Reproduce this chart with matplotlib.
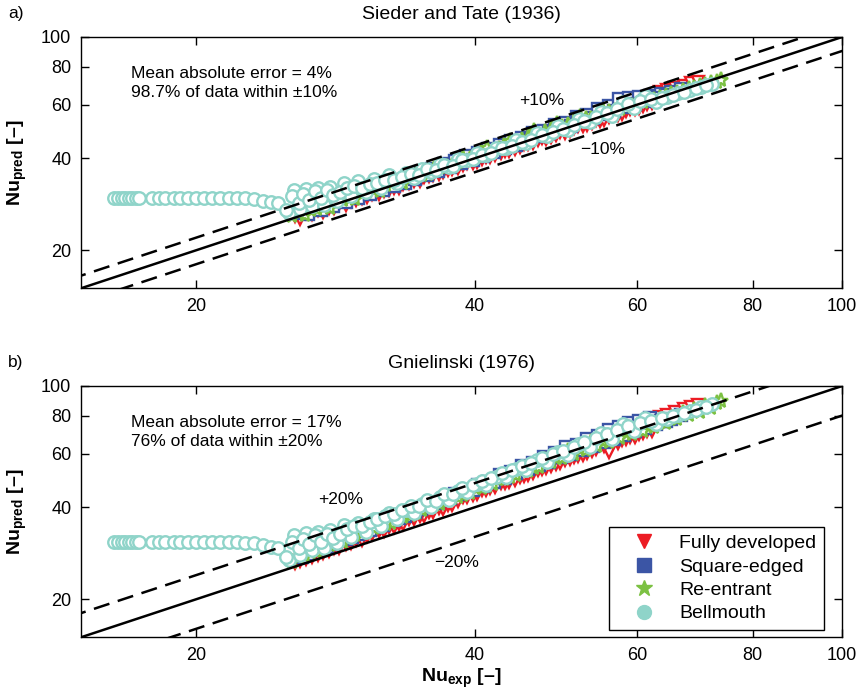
import numpy as np
import matplotlib.pyplot as plt
from matplotlib.lines import Line2D

plt.rcParams['font.family'] = ['Liberation Sans', 'DejaVu Sans']
plt.rcParams['mathtext.fontset'] = 'custom'
plt.rcParams['mathtext.rm'] = 'Liberation Sans'
plt.rcParams['mathtext.bf'] = 'Liberation Sans:bold'

# Nu_exp and predicted Nu for Sieder & Tate (st) and Gnielinski (gn)
fd_x = [25.6, 26.3, 27.1, 27.8, 28.5, 29.4, 30.2, 31.0, 31.9, 32.7, 33.5, 34.4, 35.3, 36.1,
        37.0, 37.8, 38.9, 39.8, 40.7, 41.6, 42.7, 43.6, 44.8, 45.7, 46.9, 47.8, 49.0, 50.1,
        51.3, 52.4, 53.6, 54.7, 55.9, 57.2, 58.4, 59.6, 60.9, 62.2, 63.5, 64.6, 66.0, 67.4,
        68.6, 69.8,
        25.9, 26.7, 27.4, 28.2, 29.0, 29.8, 30.6, 31.5, 32.3, 33.1, 34.0, 34.9, 35.7, 36.6,
        37.4, 38.4, 39.3, 40.2, 41.2, 42.1, 43.2, 44.2, 45.2, 46.3, 47.3, 48.4, 49.5, 50.7,
        51.8, 53.0, 54.2, 55.3, 56.5, 57.8, 59.0, 60.3, 61.5]
fd_st = [25.9, 26.4, 27.0, 27.6, 28.3, 28.9, 29.6, 30.6, 31.2, 32.0, 32.9, 33.6, 34.8, 35.2,
         36.1, 36.9, 38.0, 38.7, 39.9, 40.5, 41.8, 42.4, 43.6, 44.5, 45.8, 46.4, 47.8, 48.6,
         50.2, 50.9, 52.4, 53.1, 54.6, 55.7, 57.1, 58.0, 59.6, 60.9, 66.2, 67.1, 68.0, 69.3,
         70.4, 71.2,
         25.3, 26.2, 26.7, 27.6, 28.2, 29.1, 29.8, 30.5, 31.5, 32.1, 33.2, 33.8, 34.9, 35.5,
         36.6, 37.2, 38.5, 39.0, 40.4, 40.9, 42.4, 42.9, 44.5, 44.9, 46.6, 46.9, 48.7, 49.3,
         50.9, 51.4, 53.3, 53.6, 55.6, 56.0, 58.1, 58.4, 60.5]
fd_gn = [26.2, 27.0, 27.9, 28.8, 29.5, 30.6, 31.3, 32.6, 33.4, 34.6, 35.3, 36.6, 37.5, 38.6,
         39.5, 40.6, 43.2, 44.0, 45.6, 46.4, 47.9, 48.6, 50.4, 51.2, 52.9, 53.7, 55.6, 57.0,
         58.3, 59.2, 61.0, 65.4, 60.6, 65.0, 66.8, 68.1, 69.9, 71.4, 79.2, 80.4, 82.0, 84.1,
         85.6, 86.8,
         26.6, 27.6, 28.4, 29.4, 30.4, 31.3, 32.3, 33.4, 34.4, 35.4, 36.5, 37.6, 38.6, 39.8,
         40.8, 42.1, 43.1, 44.3, 45.6, 46.8, 48.1, 49.3, 50.6, 52.0, 53.3, 54.6, 56.0, 57.6,
         59.0, 60.5, 62.0, 63.4, 64.9, 66.6, 68.1, 69.8, 71.3]

se_x = [26.0, 26.9, 27.7, 28.6, 29.5, 30.4, 31.3, 32.2, 33.1, 34.0, 35.0, 36.0, 37.1, 38.1,
        39.2, 40.3, 41.4, 42.6, 43.8, 45.0, 46.3, 47.6, 48.9, 50.2, 51.6, 53.0, 54.4, 55.9,
        57.3, 58.8, 60.3, 62.0, 63.6, 65.2, 66.9,
        26.4, 27.3, 28.1, 29.0, 29.9, 30.8, 31.8, 32.7, 33.6, 34.5, 35.5, 36.5, 37.6, 38.7,
        39.8, 40.9, 42.0, 43.2, 44.4, 45.7, 47.0, 48.2, 49.6, 50.9, 52.3, 53.7, 55.2, 56.6,
        58.1, 59.6, 61.2, 62.8, 64.4]
se_st = [26.4, 27.2, 28.3, 29.0, 30.2, 30.8, 32.1, 32.7, 34.0, 34.6, 36.0, 36.8, 38.3, 39.1,
         40.6, 41.5, 43.0, 44.1, 45.6, 46.5, 48.4, 49.3, 51.4, 52.3, 54.6, 55.4, 58.1, 59.6,
         62.4, 62.9, 63.6, 64.2, 65.0, 66.1, 67.3,
         26.3, 27.0, 27.9, 28.8, 29.6, 30.5, 31.6, 32.5, 33.3, 34.3, 35.2, 36.3, 37.4, 38.5,
         39.6, 40.8, 41.9, 43.3, 44.4, 45.8, 47.2, 48.5, 50.0, 51.2, 52.9, 54.1, 55.8, 57.0,
         58.8, 60.2, 61.6, 63.3, 64.6]
se_gn = [27.6, 28.9, 29.6, 31.2, 32.0, 33.6, 34.4, 36.0, 36.9, 38.4, 39.4, 41.2, 42.3, 44.1,
         45.3, 47.4, 48.6, 50.9, 52.1, 54.5, 55.8, 58.6, 60.1, 63.0, 64.1, 67.2, 68.6, 71.9,
         73.6, 75.9, 76.8, 78.4, 76.5, 78.0, 80.2,
         28.2, 29.4, 30.4, 31.6, 32.7, 33.8, 35.1, 36.3, 37.5, 38.7, 40.0, 41.3, 42.8, 44.2,
         45.6, 47.1, 48.5, 50.1, 51.7, 53.4, 55.0, 56.5, 58.3, 59.9, 61.7, 63.5, 65.4, 67.2,
         69.1, 71.0, 73.0, 75.0, 77.0]

re_x = [25.4, 26.2, 27.0, 27.9, 28.8, 29.7, 30.6, 31.6, 32.5, 33.5, 34.6, 35.6, 36.7, 37.8,
        38.9, 40.1, 41.3, 42.5, 43.7, 45.0, 46.4, 47.7, 49.1, 50.5, 52.0, 53.5, 55.1, 56.7,
        58.3, 60.0, 61.7, 63.5, 65.3, 67.2, 69.1, 71.1, 73.2, 74.0,
        25.8, 26.6, 27.5, 28.4, 29.3, 30.2, 31.1, 32.1, 33.0, 34.1, 35.1, 36.2, 37.3, 38.4,
        39.5, 40.7, 41.9, 43.1, 44.4, 45.7, 47.0, 48.4, 49.8, 51.3, 52.8, 54.3, 55.9, 57.5,
        59.2, 60.9, 62.6, 64.4, 66.3, 68.2, 70.1, 72.2]
re_st = [25.8, 26.0, 27.2, 27.6, 29.1, 29.5, 31.0, 31.3, 33.1, 33.2, 35.4, 35.5, 37.6, 37.9,
         40.1, 40.3, 43.2, 43.0, 45.6, 45.9, 49.1, 48.8, 51.8, 51.5, 54.6, 53.9, 57.4, 57.0,
         60.2, 60.1, 62.5, 63.2, 65.0, 66.4, 68.1, 69.6, 71.4, 72.3,
         26.5, 27.1, 27.8, 28.9, 29.7, 30.8, 31.4, 32.6, 33.3, 34.6, 35.3, 36.8, 37.6, 38.9,
         39.8, 41.4, 42.3, 43.9, 44.9, 46.6, 47.7, 49.4, 50.6, 52.3, 53.7, 55.1, 56.6, 58.1,
         59.5, 61.0, 62.3, 63.9, 65.6, 67.3, 68.9, 70.6]
re_gn = [26.4, 27.8, 28.6, 30.1, 30.8, 32.4, 33.2, 34.9, 35.6, 37.3, 38.2, 40.1, 40.9, 43.0,
         43.8, 46.3, 47.0, 49.6, 50.4, 53.1, 54.0, 57.0, 57.9, 61.0, 62.0, 65.3, 66.1, 69.7,
         70.5, 73.8, 74.4, 77.5, 78.8, 81.3, 83.4, 85.9, 88.1, 89.3,
         27.4, 28.5, 29.6, 30.7, 31.8, 33.0, 34.1, 35.4, 36.5, 37.9, 39.1, 40.6, 41.9, 43.4,
         44.7, 46.3, 47.8, 49.4, 51.1, 52.7, 54.4, 56.2, 57.9, 59.8, 61.6, 63.4, 65.3, 67.3,
         69.4, 71.4, 73.4, 75.6, 77.9, 80.1, 82.3, 84.8]

bm_x = [16.3, 16.45, 16.6, 16.75, 16.9, 17.05, 17.2, 17.35, 17.9, 18.2, 18.5, 18.9, 19.2,
        19.6, 20.0, 20.4, 20.8, 21.2, 21.7, 22.1, 22.6, 23.1, 23.6, 24.1, 24.5,
        25.2, 25.5, 25.9, 26.3, 26.7, 27.1, 27.5, 27.9, 28.4, 28.9, 29.4, 29.9, 30.5, 31.1,
        31.7, 32.3, 33.0, 33.7, 34.4, 35.1, 35.9, 36.7, 37.5, 38.4, 39.3, 40.2, 41.2, 42.2,
        43.3, 44.4, 45.5, 46.7, 47.9, 49.2, 50.5, 51.9, 53.3, 54.8, 56.3, 57.9, 59.5, 61.2,
        62.9, 64.7, 66.5, 68.4, 70.3, 72.3,
        25.0, 25.4, 25.8, 26.1, 26.5, 26.9, 27.3, 27.7, 28.1, 28.6, 29.1, 29.6, 30.2, 30.8,
        31.4, 32.0, 32.7, 33.4, 34.1, 34.8, 35.5, 36.3, 37.1, 37.9, 38.8, 39.8, 40.7, 41.7,
        42.8, 43.9, 45.0, 46.1, 47.3, 48.6, 49.9, 51.2, 52.6, 54.1, 55.6, 57.1, 58.7, 60.4,
        62.1, 63.8, 65.6, 67.5, 69.4, 71.3]
bm_st = [29.7, 29.7, 29.7, 29.7, 29.7, 29.7, 29.7, 29.7, 29.7, 29.7, 29.7, 29.7, 29.7,
         29.7, 29.7, 29.7, 29.7, 29.7, 29.7, 29.6, 29.6, 29.4, 29.0, 28.7, 28.5,
         26.4, 31.6, 27.2, 31.8, 27.9, 32.0, 28.1, 32.2, 29.0, 33.3, 30.2, 33.6, 31.0, 34.2,
         32.1, 35.4, 33.3, 35.9, 34.6, 37.0, 36.0, 38.4, 37.4, 39.9, 39.6, 41.6, 41.0, 43.4,
         43.1, 45.8, 45.0, 48.3, 47.5, 50.9, 49.7, 53.8, 52.5, 56.9, 55.1, 61.0, 58.3, 64.0,
         61.4, 63.4, 65.3, 66.9, 68.6, 70.1,
         27.0, 30.1, 28.6, 30.6, 29.3, 31.2, 29.6, 31.4, 30.3, 31.0, 31.9, 32.5, 32.1, 33.0,
         33.3, 33.9, 34.0, 34.7, 35.6, 35.3, 36.9, 36.5, 38.0, 37.7, 39.4, 39.8, 41.1, 41.6,
         43.3, 44.0, 45.4, 46.0, 47.6, 48.9, 50.1, 51.4, 53.1, 54.6, 56.5, 58.1, 60.1, 61.9,
         62.4, 63.2, 64.6, 66.0, 67.8, 69.4]
bm_gn = [30.8, 30.8, 30.8, 30.8, 30.8, 30.8, 30.8, 30.8, 30.8, 30.8, 30.8, 30.8, 30.8,
         30.8, 30.8, 30.8, 30.8, 30.8, 30.8, 30.7, 30.6, 30.5, 30.0, 29.6, 29.4,
         26.8, 32.4, 28.0, 32.9, 28.9, 33.1, 29.4, 33.6, 30.6, 35.0, 32.1, 35.6, 33.3, 36.6,
         34.8, 38.3, 36.5, 39.3, 38.4, 41.1, 40.2, 43.1, 42.3, 45.2, 44.9, 47.8, 47.4, 50.4,
         50.3, 53.6, 53.1, 57.0, 56.4, 60.7, 59.6, 64.6, 63.3, 70.1, 66.9, 75.0, 71.3, 78.4,
         75.2, 77.9, 80.5, 82.8, 85.1, 87.4,
         27.4, 30.9, 29.4, 31.6, 30.3, 32.4, 30.9, 32.8, 31.8, 32.7, 33.9, 34.8, 34.7, 35.9,
         36.6, 37.5, 38.0, 39.2, 40.3, 40.4, 42.2, 42.1, 44.1, 44.3, 46.3, 47.2, 48.8, 49.9,
         51.9, 53.1, 54.8, 55.8, 58.0, 59.7, 61.4, 63.3, 65.3, 67.4, 69.6, 71.6, 73.7, 75.8,
         76.8, 78.5, 79.9, 81.5, 83.6, 85.6]

series = [
    ('Fully developed', fd_x, fd_st, fd_gn, 'v', '#ec1c24'),
    ('Square-edged', se_x, se_st, se_gn, 's', '#3b55a5'),
    ('Re-entrant', re_x, re_st, re_gn, '*', '#7cc143'),
    ('Bellmouth', bm_x, bm_st, bm_gn, 'o', '#8fd4c9'),
]

fig = plt.figure(figsize=(8.62, 6.98), dpi=100)
ax1 = fig.add_axes([0.094, 0.587, 0.883, 0.360])
ax2 = fig.add_axes([0.094, 0.087, 0.883, 0.360])

line = np.array([10, 110])
panels = [
    (ax1, 2, 'Sieder and Tate (1936)', 0.1,
     'Mean absolute error = 4%\n98.7% of data within \u00b110%',
     ('+10%', 44.7, 62.0), ('\u221210%', 52.1, 42.8)),
    (ax2, 3, 'Gnielinski (1976)', 0.2,
     'Mean absolute error = 17%\n76% of data within \u00b120%',
     ('+20%', 27.1, 42.5), ('\u221220%', 36.2, 26.4)),
]

for ax, col, title, band, note, up, lo in panels:
    for s in series:
        ax.plot(s[1], s[col], linestyle='none', marker=s[4],
                ms=9 if s[4] != '*' else 11, mfc='white', mec=s[5], mew=1.7)
    ax.plot(line, line, color='black', lw=1.8)
    ax.plot(line, line * (1 + band), color='black', lw=1.8, dashes=(6.5, 3.5))
    ax.plot(line, line * (1 - band), color='black', lw=1.8, dashes=(6.5, 3.5))
    ax.set_xscale('log')
    ax.set_yscale('log')
    ax.set_xlim(15, 100)
    ax.set_ylim(15, 100)
    ticks = [20, 40, 60, 80, 100]
    ax.set_xticks(ticks)
    ax.set_yticks(ticks)
    ax.set_xticklabels([str(t) for t in ticks])
    ax.set_yticklabels([str(t) for t in ticks])
    ax.minorticks_off()
    ax.tick_params(direction='in', length=6, width=1, top=True, right=True,
                   labelsize=13, pad=7)
    for sp in ax.spines.values():
        sp.set_linewidth(1)
    ax.set_title(title, fontsize=14, pad=13)
    ax.text(0.066, 0.885, note, transform=ax.transAxes, fontsize=12.5, va='top',
            linespacing=1.35)
    ax.text(up[1], up[2], up[0], fontsize=12.5, va='center')
    ax.text(lo[1], lo[2], lo[0], fontsize=12.5, va='center')
    ax.set_ylabel('Nu$_{\\mathbf{pred}}$ [\u2013]', fontsize=14, fontweight='bold')
    ax.yaxis.set_label_coords(-0.069, 0.5)

ax2.set_xlabel('Nu$_{\\mathbf{exp}}$ [\u2013]', fontsize=14, fontweight='bold', labelpad=2)

fig.text(0.009, 0.981, 'a)', fontsize=12.5, va='center')
fig.text(0.009, 0.481, 'b)', fontsize=12.5, va='center')

handles = [Line2D([], [], linestyle='none', marker=s[4], color=s[5],
                  ms=10 if s[4] != '*' else 12, mec=s[5]) for s in series]
leg = ax2.legend(handles, [s[0] for s in series], loc='lower right',
                 bbox_to_anchor=(0.976, 0.028), fontsize=14, frameon=True, fancybox=False,
                 edgecolor='black', framealpha=1, handlelength=2.8, handletextpad=0.4,
                 borderpad=0.4, labelspacing=0.3, borderaxespad=0)
leg.get_frame().set_linewidth(1)

fig.savefig('out.png', dpi=100)
